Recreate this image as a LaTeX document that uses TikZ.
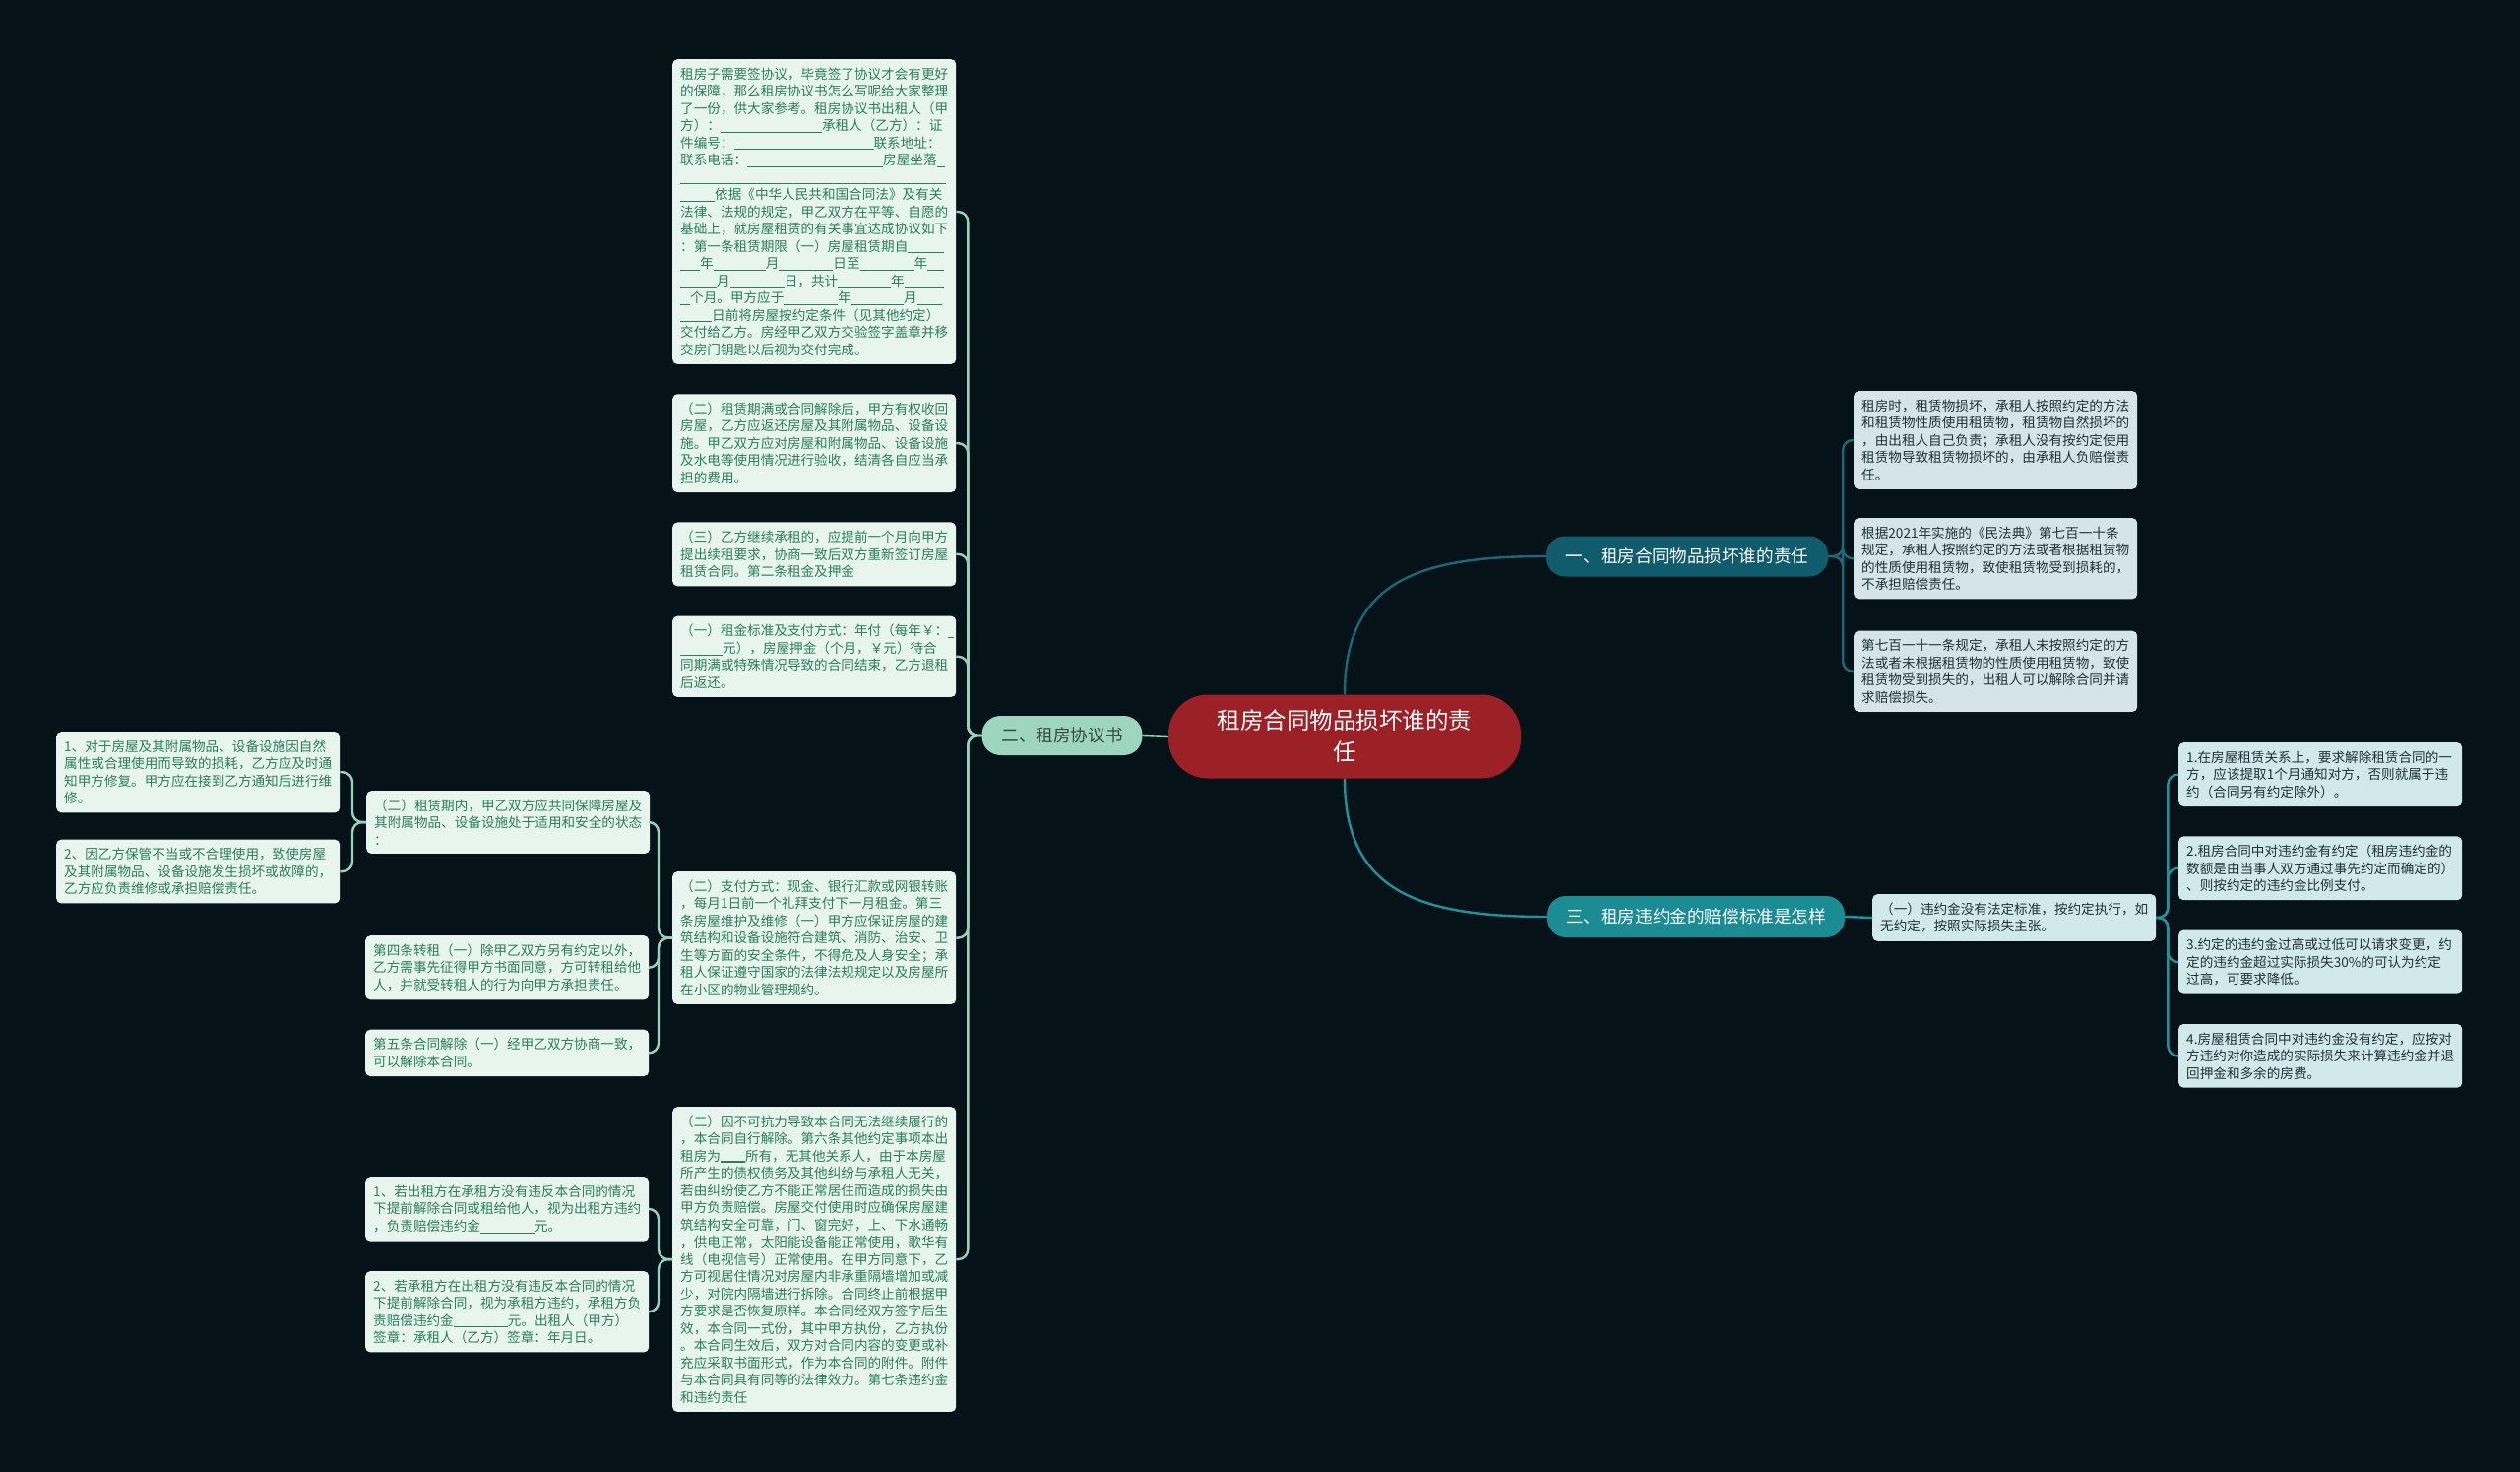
\documentclass[tikz,border=0pt]{standalone}
\usepackage{fontspec}
\setmainfont{Noto Sans CJK SC}
\usetikzlibrary{positioning}

\definecolor{bgdark}{RGB}{5,19,25}
\definecolor{rootred}{RGB}{155,33,38}
\definecolor{bonefill}{RGB}{16,92,108}
\definecolor{btwofill}{RGB}{158,213,192}
\definecolor{btwotext}{RGB}{50,72,66}
\definecolor{bthreefill}{RGB}{28,140,148}
\definecolor{leftline}{RGB}{150,210,188}
\definecolor{oneline}{RGB}{26,104,120}
\definecolor{threeline}{RGB}{32,146,156}
\definecolor{leaffill}{RGB}{232,244,238}
\definecolor{leaftext}{RGB}{42,126,94}
\definecolor{rfill}{RGB}{212,228,232}
\definecolor{pfill}{RGB}{210,233,236}
\definecolor{darktext}{RGB}{32,48,54}

\newcommand\ulblank[1]{\rule[-2pt]{#1pt}{0.7pt}}

\begin{document}
\begin{tikzpicture}[x=1pt, y=-1pt,
  node distance=30pt,
  every node/.style={font=\fontsize{13.6}{17.5}\selectfont},
  leafl/.style={rectangle, rounded corners=5pt, fill=leaffill, text=leaftext,
    text width=272pt, inner xsep=8pt, inner ysep=8.5pt, align=left},
  leafr/.style={rectangle, rounded corners=5pt, fill=#1, text=darktext,
    text width=272pt, inner xsep=8pt, inner ysep=8.5pt, align=left},
  topic/.style={rectangle, rounded corners=19pt, fill=#1, minimum height=41pt,
    inner xsep=18pt, font=\fontsize{17.6}{21}\selectfont},
  lline/.style={draw=leftline, line width=2.4pt, rounded corners=10pt},
  oline/.style={draw=oneline, line width=2.4pt, rounded corners=10pt},
  tline/.style={draw=threeline, line width=2.4pt, rounded corners=10pt}
]
\fill[bgdark] (0,0) rectangle (2560,1495);
\useasboundingbox (0,0) rectangle (2560,1495);

% ===== CENTRE =====
\node[rectangle, rounded corners=40pt, fill=rootred, text=white, minimum width=358pt,
  minimum height=85pt, align=center, font=\fontsize{23.5}{32}\selectfont]
  (root) at (1366,748) {租房合同物品损坏谁的责\\任};
\node[topic=btwofill, text=btwotext, minimum width=163pt, minimum height=40pt] (b2) at (1079,747) {二、租房协议书};
\node[topic=bonefill, text=white, minimum width=286pt] (b1) at (1714,565) {一、租房合同物品损坏谁的责任};
\node[topic=bthreefill, text=white, minimum width=302pt, minimum height=42pt] (b3) at (1723,931) {三、租房违约金的赔偿标准是怎样};

% ===== 二、租房协议书 =====
\node[leafl, anchor=north west] (l1) at (683,60) {租房子需要签协议，毕竟签了协议才会有更好\\的保障，那么租房协议书怎么写呢给大家整理\\了一份，供大家参考。租房协议书出租人（甲\\方）：\ulblank{103}承租人（乙方）：证\\件编号：\ulblank{142}联系地址：\\联系电话：\ulblank{138}房屋坐落\ulblank{8}\\\ulblank{270}\\\ulblank{35}依据《中华人民共和国合同法》及有关\\法律、法规的规定，甲乙双方在平等、自愿的\\基础上，就房屋租赁的有关事宜达成协议如下\\：第一条租赁期限（一）房屋租赁期自\ulblank{37}\\\ulblank{20}年\ulblank{53}月\ulblank{55}日至\ulblank{55}年\ulblank{17}\\\ulblank{37}月\ulblank{55}日，共计\ulblank{54}年\ulblank{40}\\\ulblank{10}个月。甲方应于\ulblank{55}年\ulblank{53}月\ulblank{25}\\\ulblank{32}日前将房屋按约定条件（见其他约定）\\交付给乙方。房经甲乙双方交验签字盖章并移\\交房门钥匙以后视为交付完成。};
\node[leafl, below=of l1] (l2) {（二）租赁期满或合同解除后，甲方有权收回\\房屋，乙方应返还房屋及其附属物品、设备设\\施。甲乙双方应对房屋和附属物品、设备设施\\及水电等使用情况进行验收，结清各自应当承\\担的费用。};
\node[leafl, below=of l2] (l3) {（三）乙方继续承租的，应提前一个月向甲方\\提出续租要求，协商一致后双方重新签订房屋\\租赁合同。第二条租金及押金};
\node[leafl, below=of l3] (l4) {（一）租金标准及支付方式：年付（每年￥：\ulblank{6}\\\ulblank{43}元），房屋押金（个月，￥元）待合\\同期满或特殊情况导致的合同结束，乙方退租\\后返还。};
\node[leafl, anchor=north west] (l5) at (683,885) {（二）支付方式：现金、银行汇款或网银转账\\，每月1日前一个礼拜支付下一月租金。第三\\条房屋维护及维修（一）甲方应保证房屋的建\\筑结构和设备设施符合建筑、消防、治安、卫\\生等方面的安全条件，不得危及人身安全；承\\租人保证遵守国家的法律法规规定以及房屋所\\在小区的物业管理规约。};
\node[leafl, anchor=north west] (l6) at (683,1124) {（二）因不可抗力导致本合同无法继续履行的\\，本合同自行解除。第六条其他约定事项本出\\租房为\rule[-1.5pt]{25pt}{1.8pt}所有，无其他关系人，由于本房屋\\所产生的债权债务及其他纠纷与承租人无关，\\若由纠纷使乙方不能正常居住而造成的损失由\\甲方负责赔偿。房屋交付使用时应确保房屋建\\筑结构安全可靠，门、窗完好，上、下水通畅\\，供电正常，太阳能设备能正常使用，歌华有\\线（电视信号）正常使用。在甲方同意下，乙\\方可视居住情况对房屋内非承重隔墙增加或减\\少，对院内隔墙进行拆除。合同终止前根据甲\\方要求是否恢复原样。本合同经双方签字后生\\效，本合同一式份，其中甲方执份，乙方执份\\。本合同生效后，双方对合同内容的变更或补\\充应采取书面形式，作为本合同的附件。附件\\与本合同具有同等的法律效力。第七条违约金\\和违约责任};
% children of l5 and l6
\node[leafl, anchor=north west] (l5a) at (372,803) {（二）租赁期内，甲乙双方应共同保障房屋及\\其附属物品、设备设施处于适用和安全的状态\\：};
\node[leafl, anchor=north west] (l5a1) at (57,743) {1、对于房屋及其附属物品、设备设施因自然\\属性或合理使用而导致的损耗，乙方应及时通\\知甲方修复。甲方应在接到乙方通知后进行维\\修。};
\node[leafl, below=27pt of l5a1] (l5a2) {2、因乙方保管不当或不合理使用，致使房屋\\及其附属物品、设备设施发生损坏或故障的，\\乙方应负责维修或承担赔偿责任。};
\node[leafl, anchor=north west] (l5b) at (371,950) {第四条转租（一）除甲乙双方另有约定以外，\\乙方需事先征得甲方书面同意，方可转租给他\\人，并就受转租人的行为向甲方承担责任。};
\node[leafl, below=of l5b] (l5c) {第五条合同解除（一）经甲乙双方协商一致，\\可以解除本合同。};
\node[leafl, anchor=north west] (l6a) at (371,1195) {1、若出租方在承租方没有违反本合同的情况\\下提前解除合同或租给他人，视为出租方违约\\，负责赔偿违约金\ulblank{55}元。};
\node[leafl, below=of l6a] (l6b) {2、若承租方在出租方没有违反本合同的情况\\下提前解除合同，视为承租方违约，承租方负\\责赔偿违约金\ulblank{55}元。出租人（甲方）\\签章：承租人（乙方）签章：年月日。};

% ===== 一、租房合同物品损坏谁的责任 =====
\node[leafr=rfill, anchor=north west] (r1) at (1883,397) {租房时，租赁物损坏，承租人按照约定的方法\\和租赁物性质使用租赁物，租赁物自然损坏的\\，由出租人自己负责；承租人没有按约定使用\\租赁物导致租赁物损坏的，由承租人负赔偿责\\任。};
\node[leafr=rfill, below=29pt of r1] (r2) {根据2021年实施的《民法典》第七百一十条\\规定，承租人按照约定的方法或者根据租赁物\\的性质使用租赁物，致使租赁物受到损耗的，\\不承担赔偿责任。};
\node[leafr=rfill, below=32pt of r2] (r3) {第七百一十一条规定，承租人未按照约定的方\\法或者未根据租赁物的性质使用租赁物，致使\\租赁物受到损失的，出租人可以解除合同并请\\求赔偿损失。};

% ===== 三、租房违约金的赔偿标准是怎样 =====
\node[leafr=pfill, anchor=north west] (s1) at (1902,908) {（一）违约金没有法定标准，按约定执行，如\\无约定，按照实际损失主张。};
\node[leafr=pfill, anchor=north west] (p1) at (2213,754) {1.在房屋租赁关系上，要求解除租赁合同的一\\方，应该提取1个月通知对方，否则就属于违\\约（合同另有约定除外）。};
\node[leafr=pfill, below=of p1] (p2) {2.租房合同中对违约金有约定（租房违约金的\\数额是由当事人双方通过事先约定而确定的）\\、则按约定的违约金比例支付。};
\node[leafr=pfill, below=of p2] (p3) {3.约定的违约金过高或过低可以请求变更，约\\定的违约金超过实际损失30\%的可认为约定\\过高，可要求降低。};
\node[leafr=pfill, below=of p3] (p4) {4.房屋租赁合同中对违约金没有约定，应按对\\方违约对你造成的实际损失来计算违约金并退\\回押金和多余的房费。};

% ===== CONNECTORS =====
\draw[lline] (root.west) -- (b2.east);
\foreach \n in {l1,l2,l3,l4,l5,l6}
  \draw[lline] (b2.west) -- ++(-14,0) |- (\n.east);
\foreach \n in {l5a,l5b,l5c}
  \draw[lline] (l5.west) -- ++(-14,0) |- (\n.east);
\foreach \n in {l6a,l6b}
  \draw[lline] (l6.west) -- ++(-14,0) |- (\n.east);
\foreach \n in {l5a1,l5a2}
  \draw[lline] (l5a.west) -- ++(-14,0) |- (\n.east);

\draw[oline] (root.north) .. controls (1366,590) and (1440,565) .. (b1.west);
\draw[tline] (root.south) .. controls (1366,905) and (1440,931) .. (b3.west);
\foreach \n in {r1,r2,r3}
  \draw[oline] (b1.east) -- ++(15,0) |- (\n.west);
\draw[tline] (b3.east) -- (s1.west);
\foreach \n in {p1,p2,p3,p4}
  \draw[tline] (s1.east) -- ++(12,0) |- (\n.west);
\end{tikzpicture}
\end{document}
